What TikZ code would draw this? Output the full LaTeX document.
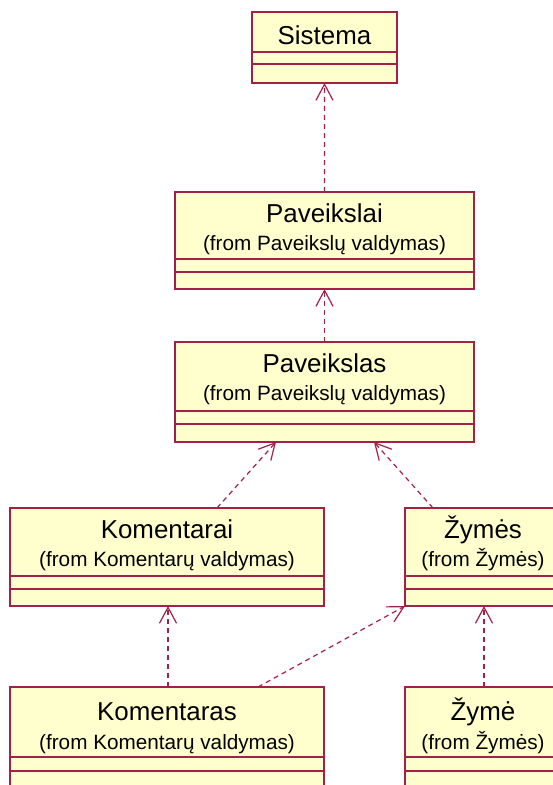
\documentclass[tikz,border=0pt]{standalone}
\usepackage{fontspec}
\setmainfont{Liberation Sans}
\usetikzlibrary{arrows.meta}
\definecolor{umlborder}{RGB}{163,32,72}
\definecolor{umlfill}{RGB}{255,255,206}

% baseline offsets of the title and origin lines below the top edge
\newcommand{\titleoff}{30}
\newcommand{\originoff}{58}

% \umlclass{name}{x}{y}{width}{height}{divider 1}{divider 2}{title}{origin}
\newcommand{\umlclass}[9]{%
  \node[classbox, minimum width=#4bp, minimum height=#5bp] (#1) at (#2,#3) {};
  \node[classtitle] at ([yshift=-\titleoff bp]#1.north) {#8};
  \node[classorigin] at ([yshift=-\originoff bp]#1.north) {#9};
  \draw[divider] ([yshift=-#6bp]#1.north west) -- ([yshift=-#6bp]#1.north east);
  \draw[divider] ([yshift=-#7bp]#1.north west) -- ([yshift=-#7bp]#1.north east);
}

\begin{document}
\begin{tikzpicture}[x=1bp, y=-1bp,
  classbox/.style={draw=umlborder, fill=umlfill, line width=1.3bp, rectangle,
    anchor=north west, inner sep=0pt, outer sep=0pt},
  classtitle/.style={font=\fontsize{26}{30}\selectfont, anchor=base, inner sep=0pt},
  classorigin/.style={font=\fontsize{20.8}{24}\selectfont, anchor=base, inner sep=0pt},
  divider/.style={draw=umlborder, line width=1.3bp},
  depend/.style={draw=umlborder, line width=1.2bp, dash pattern=on 5bp off 4bp,
    -{Straight Barb[length=16bp, width=17bp, line width=1.2bp]}}
]
\useasboundingbox (0,0) rectangle (553,785);
\clip (0,0) rectangle (553,785);

% Sistema (single compartment title)
\node[classbox, minimum width=145bp, minimum height=71bp] (sistema) at (252,12) {};
\node[classtitle] at ([yshift=-33bp]sistema.north) {Sistema};
\draw[divider] ([yshift=-40bp]sistema.north west) -- ([yshift=-40bp]sistema.north east);
\draw[divider] ([yshift=-52bp]sistema.north west) -- ([yshift=-52bp]sistema.north east);

\umlclass{paveikslai}{175}{192}{299}{97}{67}{80}{Paveikslai}{(from Paveikslų valdymas)}
\umlclass{paveikslas}{175}{342}{299}{100}{69}{82}{Paveikslas}{(from Paveikslų valdymas)}
\umlclass{komentarai}{10}{508}{314}{98}{68}{81}{Komentarai}{(from Komentarų valdymas)}
\umlclass{zymes}{405}{508}{156}{98}{68}{81}{Žymės}{(from Žymės)}
\renewcommand{\titleoff}{33}
\renewcommand{\originoff}{62}
\umlclass{komentaras}{10}{687}{314}{120}{70}{84}{Komentaras}{(from Komentarų valdymas)}
\umlclass{zyme}{405}{687}{156}{120}{70}{84}{Žymė}{(from Žymės)}

% dependencies
\draw[depend] (paveikslai.north) -- (sistema.south);
\draw[depend] (paveikslas.north) -- (paveikslai.south);
\draw[depend] ([xshift=50bp]komentarai.north) -- ([xshift=-48.5bp]paveikslas.south);
\draw[depend] ([xshift=-50bp]zymes.north) -- ([xshift=49.5bp]paveikslas.south);
\draw[depend] ([xshift=1bp]komentaras.north) -- ([xshift=1bp]komentarai.south);
\draw[depend] ([xshift=91bp]komentaras.north) -- (zymes.south west);
\draw[depend] ([xshift=1bp]zyme.north) -- ([xshift=1bp]zymes.south);
\end{tikzpicture}
\end{document}
